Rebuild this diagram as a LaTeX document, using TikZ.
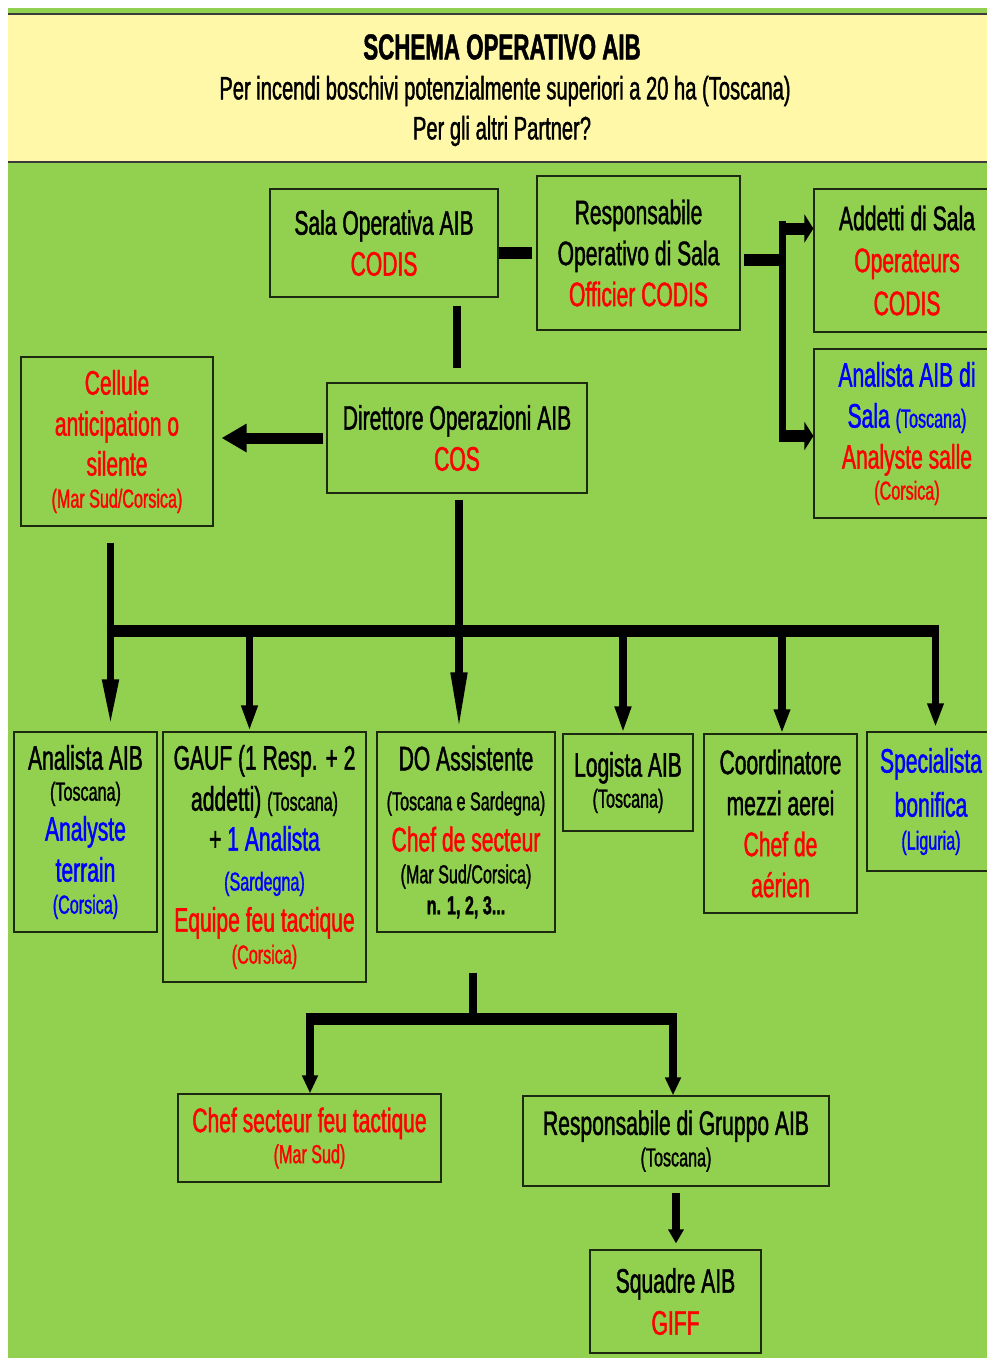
\documentclass[tikz,border=0pt]{standalone}
\usepackage{fontspec}
\setmainfont{Liberation Sans}[FakeStretch=0.62, FakeBold=1.2]
\usepackage{xcolor}
\usetikzlibrary{arrows.meta}

\definecolor{aibgreen}{HTML}{92D050}
\definecolor{hdryellow}{HTML}{FFF8A8}
\definecolor{hdrline}{HTML}{3A3A3A}
\definecolor{boxline}{HTML}{1E2A10}
\definecolor{aibred}{HTML}{FF0000}
\definecolor{aibblue}{HTML}{0000FF}

\newcommand{\bigtxt}{\fontsize{34}{41}\selectfont}
\newcommand{\smtxt}{\fontsize{26}{31}\selectfont}
\newcommand{\txtred}[1]{{\color{aibred}#1}}
\newcommand{\txtblue}[1]{{\color{aibblue}#1}}
\newcommand{\txtsmall}[1]{{\smtxt #1}}

\begin{document}
\begin{tikzpicture}[x=1pt, y=-1pt]
    \tikzstyle{box}=[draw=boxline, line width=1.2pt, fill=aibgreen, align=center, font=\bigtxt, inner sep=0pt]
    \tikzstyle{link}=[line width=12pt]
    \tikzstyle{trunk}=[line width=8pt]
    \tikzstyle{dropline}=[line width=7.5pt, -{Triangle[length=#1, width=15pt]}]
    \tikzstyle{sidearrow}=[line width=12pt, -{Triangle[length=9pt, width=28pt]}]

    \useasboundingbox (0,0) rectangle (987,1358);
    \fill[white] (0,0) rectangle (987,1358);
    \fill[aibgreen] (8,8) rectangle (1000,1366);
    % header
    \fill[hdryellow] (8,14) rectangle (1000,162);
    \draw[hdrline, line width=2.5pt] (8,14) -- (1000,14);
    \draw[hdrline, line width=2.5pt] (8,162) -- (1000,162);
    \node[font=\fontsize{36}{43}\selectfont\bfseries] (title) at (502,47) {SCHEMA OPERATIVO AIB};
    \node[font=\fontsize{32.5}{39}\selectfont] (sub1) at (505,91) {Per incendi boschivi potenzialmente superiori a 20 ha (Toscana)};
    \node[font=\fontsize{32.5}{39}\selectfont] (sub2) at (502,131) {Per gli altri Partner?};

    % top level
    \node[box, minimum width=228pt, minimum height=108pt] (sala) at (384,243) {Sala Operativa AIB\\\txtred{CODIS}};
    \node[box, minimum width=203pt, minimum height=154pt] (resp) at (638.5,253) {Responsabile\\Operativo di Sala\\\txtred{Officier CODIS}};
    \node[box, minimum width=186pt, minimum height=143pt] (addetti) at (907,260.5) {Addetti di Sala\\[1pt]\txtred{Operateurs}\\[2pt]\txtred{CODIS}};
    \node[box, minimum width=186pt, minimum height=169pt] (analsala) at (907,433.5) {\txtblue{Analista AIB di}\\\txtblue{Sala \txtsmall{(Toscana)}}\\\txtred{Analyste salle}\\[-10pt]\txtred{\txtsmall{(Corsica)}}};
    \node[box, minimum width=192pt, minimum height=169pt] (cellule) at (117,441.5) {\txtred{Cellule}\\\txtred{anticipation o}\\[-1pt]\txtred{silente}\\[-9pt]\txtred{\txtsmall{(Mar Sud/Corsica)}}};
    \node[box, minimum width=260pt, minimum height=110pt] (dir) at (457,438) {Direttore Operazioni AIB\\\txtred{COS}};

    % second level
    \node[box, minimum width=143pt, minimum height=200pt] (analista) at (85.5,832) {Analista AIB\\[-10pt]\txtsmall{(Toscana)}\\[-1pt]\txtblue{Analyste}\\\txtblue{terrain}\\[-9pt]\txtblue{\txtsmall{(Corsica)}}};
    \node[box, minimum width=203pt, minimum height=250pt] (gauf) at (264.5,857) {GAUF (1 Resp. + 2\\addetti) \txtsmall{(Toscana)}\\[-1pt]+ \txtblue{1 Analista}\\[-1pt]\txtblue{\txtsmall{(Sardegna)}}\\[0pt]\txtred{Equipe feu tactique}\\[-9pt]\txtred{\txtsmall{(Corsica)}}};
    \node[box, minimum width=178pt, minimum height=200pt] (doass) at (466,832) {DO Assistente\\[-1pt]\txtsmall{(Toscana e Sardegna)}\\[0pt]\txtred{Chef de secteur}\\[-9pt]\txtsmall{(Mar Sud/Corsica)}\\[-10pt]\txtsmall{\bfseries n. 1, 2, 3...}};
    \node[box, minimum width=130pt, minimum height=97pt] (logista) at (628,782.5) {Logista AIB\\[-10pt]\txtsmall{(Toscana)}};
    \node[box, minimum width=153pt, minimum height=179pt] (coord) at (780.5,823.5) {Coordinatore\\mezzi aerei\\\txtred{Chef de}\\\txtred{aérien}};
    \node[box, minimum width=128pt, minimum height=139pt] (spec) at (931,801.5) {\txtblue{Specialista}\\[3pt]\txtblue{bonifica}\\[-8pt]\txtblue{\txtsmall{(Liguria)}}};

    % third level
    \node[box, minimum width=263pt, minimum height=88pt] (chefsect) at (309.5,1138) {\txtred{Chef secteur feu tactique}\\[-10pt]\txtred{\txtsmall{(Mar Sud)}}};
    \node[box, minimum width=306pt, minimum height=90pt] (respgr) at (676,1141) {Responsabile di Gruppo AIB\\[-9.5pt]\txtsmall{(Toscana)}};
    \node[box, minimum width=171pt, minimum height=103pt] (squadre) at (675.5,1301.5) {Squadre AIB\\[1pt]\txtred{GIFF}};

    % sala operativa links
    \draw[link, shorten >=4pt] (sala.east |- resp) -- (resp.west);
    \coordinate (fork) at (782.5,260);
    \coordinate (forkT) at (782.5,228.5);
    \coordinate (forkB) at (782.5,436);
    \draw[link, shorten <=3pt] (resp.east |- fork) -- (fork);
    \draw[line width=7pt] ([yshift=7.5pt]forkT) -- ([yshift=-6pt]forkB);
    \draw[sidearrow] ([xshift=-3.5pt]forkT) -- (forkT -| addetti.west);
    \draw[sidearrow] ([xshift=-3.5pt]forkB) -- (forkB -| analsala.west);
    \draw[trunk, shorten <=8pt, shorten >=14pt] (dir.north |- sala.south) -- (dir.north);
    \draw[line width=11pt, -{Triangle[length=25pt, width=27pt]}, shorten <=3pt, shorten >=8pt] (dir.west) -- (dir.west -| cellule.east);

    % main bus
    \coordinate (dA) at (110.5,631);
    \coordinate (dB) at (249.5,631);
    \coordinate (dC) at (459,631);
    \coordinate (dD) at (623,631);
    \coordinate (dE) at (782,631);
    \coordinate (dF) at (935.5,631);
    \draw[link] ([xshift=-3.75pt]dA) -- ([xshift=3.75pt]dF);
    \draw[dropline=48pt, shorten <=16pt, shorten >=4pt] (dA |- cellule.south) -- (dA |- analista.north);
    \draw[dropline=26pt] (dB) -- (dB |- gauf.north);
    \draw[dropline=59pt, shorten <=6pt] (dC |- dir.south) -- (dC |- doass.north);
    \draw[dropline=27pt] (dD) -- (dD |- logista.north);
    \draw[dropline=24pt] (dE) -- (dE |- coord.north);
    \draw[dropline=24pt, shorten >=4pt] ([yshift=6.5pt]dF) -- (dF |- spec.north);

    % lower bus
    \coordinate (sub) at (473,1019);
    \coordinate (sL) at (310,1019);
    \coordinate (sR) at (673,1019);
    \draw[trunk, shorten <=40pt] (sub |- doass.south) -- (sub);
    \draw[link] ([xshift=-4pt]sL) -- ([xshift=4pt]sR);
    \draw[dropline=18pt] (sL) -- (sL |- chefsect.north);
    \draw[dropline=18pt] (sR) -- (sR |- respgr.north);
    \draw[dropline=14pt, shorten <=6pt, shorten >=6pt] (respgr.south) -- (respgr.south |- squadre.north);
\end{tikzpicture}
\end{document}
